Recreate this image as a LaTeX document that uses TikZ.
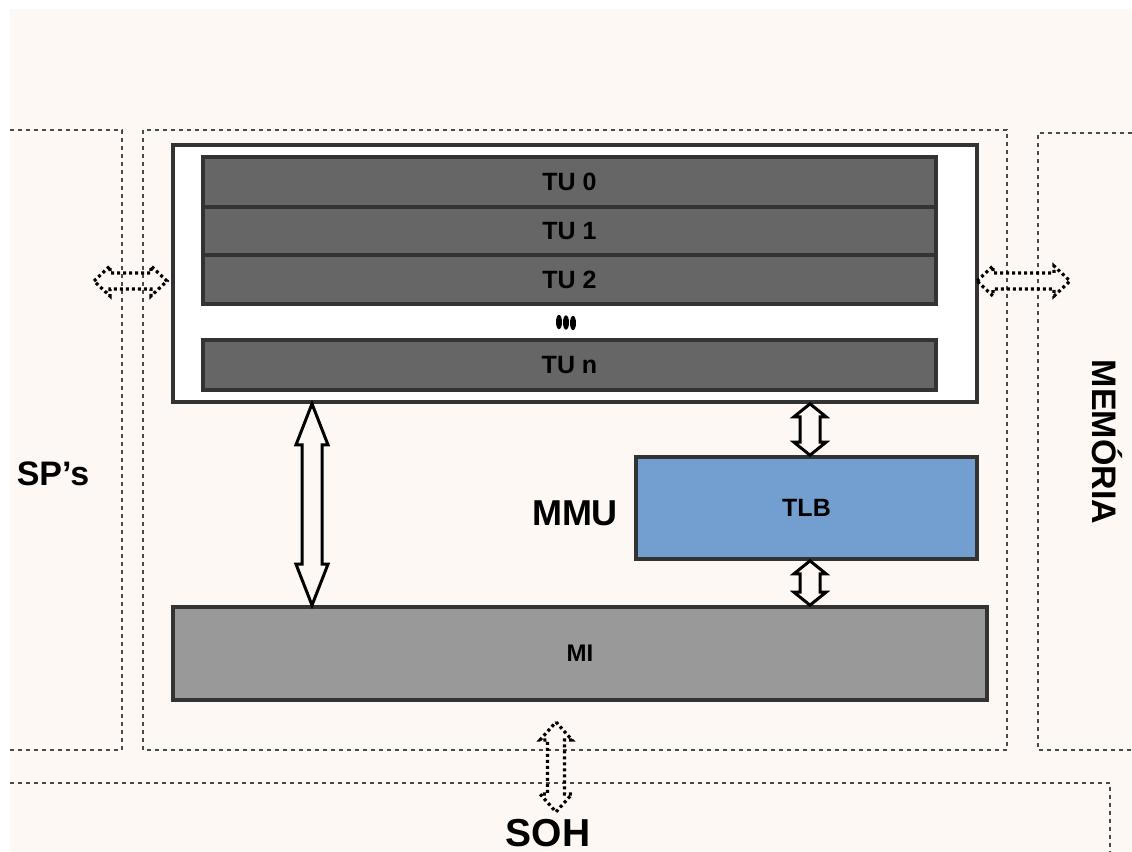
\documentclass[tikz,border=0pt]{standalone}
\usepackage{fontspec}
\setmainfont{Liberation Sans}
\usetikzlibrary{calc}
\definecolor{paper}{HTML}{FDF8F4}
\definecolor{edge}{HTML}{333333}
\definecolor{tugray}{HTML}{666666}
\definecolor{tlbblue}{HTML}{729FCF}
\definecolor{migray}{HTML}{999999}
\definecolor{zone}{HTML}{4A4A4A}

% vertical double block arrow: style, top end, bottom end, half shaft, half head, head length
\newcommand{\vdblarrow}[6]{%
  \draw[#1] let \p1=(#2), \p2=(#3) in
    (\x1,\y1) -- (\x1+#5,\y1-#6) -- (\x1+#4,\y1-#6) -- (\x2+#4,\y2+#6) --
    (\x2+#5,\y2+#6) -- (\x2,\y2) -- (\x2-#5,\y2+#6) -- (\x2-#4,\y2+#6) --
    (\x1-#4,\y1-#6) -- (\x1-#5,\y1-#6) -- cycle;}
% horizontal double block arrow: style, left end, right end, half shaft, half head, head length
\newcommand{\hdblarrow}[6]{%
  \draw[#1] let \p1=(#2), \p2=(#3) in
    (\x1,\y1) -- (\x1+#6,\y1+#5) -- (\x1+#6,\y1+#4) -- (\x2-#6,\y2+#4) --
    (\x2-#6,\y2+#5) -- (\x2,\y2) -- (\x2-#6,\y2-#5) -- (\x2-#6,\y2-#4) --
    (\x1+#6,\y1-#4) -- (\x1+#6,\y1-#5) -- cycle;}

\begin{document}
\begin{tikzpicture}[x=0.5pt,y=-0.5pt,
  zoneline/.style={draw=zone, line width=1.2pt, dash pattern=on 2pt off 2pt},
  box/.style={draw=edge, line width=1.8pt, inner sep=0pt},
  tubox/.style={box, fill=tugray, minimum width=366.5pt, font=\fontsize{12.5}{15}\selectfont\bfseries},
  solidarrow/.style={draw=black, fill=paper, line width=1.5pt, line join=miter},
  dotarrow/.style={draw=black, line width=1.6pt, dash pattern=on 1.5pt off 1.5pt},
  label/.style={font=\bfseries, text=black}
]
\useasboundingbox (0,0) rectangle (1132,852);
\fill[paper] (10,9) rectangle (1132,852);

% surrounding zones
\draw[zoneline] (10,130) -- (122,130) -- (122,750) -- (10,750);
\draw[zoneline] (143,130) rectangle (1007,750);
\draw[zoneline] (1132,133) -- (1038,133) -- (1038,750) -- (1132,750);
\draw[zoneline] (10,783) -- (1110,783) -- (1110,852);

% thread units
\node[box, fill=white, minimum width=402pt, minimum height=128.5pt] (outer) at (575,273.5) {};
\node[tubox, minimum height=25pt]   (tu0) at (569.5,182)   {TU 0};
\node[tubox, minimum height=24pt]   (tu1) at (569.5,231)   {TU 1};
\node[tubox, minimum height=24.5pt] (tu2) at (569.5,279.5) {TU 2};
\node[tubox, minimum height=25pt]   (tun) at (569.5,365)   {TU n};
\fill (559,322) ellipse [x radius=1.5pt, y radius=3.6pt];
\fill (566,322.5) ellipse [x radius=1.5pt, y radius=3.6pt];
\fill (573,323) ellipse [x radius=1.5pt, y radius=3.6pt];

% memory management unit
\node[box, fill=tlbblue, minimum width=170.5pt, minimum height=51pt,
      font=\fontsize{12.5}{15}\selectfont\bfseries] (tlb) at (806.5,508) {TLB};
\node[label, font=\fontsize{18}{21}\selectfont\bfseries] (mmu) at (575,513) {MMU};

% memory interface
\node[box, fill=migray, minimum width=407pt, minimum height=46.5pt,
      font=\fontsize{12}{14}\selectfont\bfseries] (mi) at (580,653.5) {MI};

% region labels
\node[label, font=\fontsize{17}{20}\selectfont\bfseries] (sp) at (53,474) {SP’s};
\node[label, font=\fontsize{17}{20}\selectfont\bfseries, rotate=-90] (mem) at (1107,442) {MEMÓRIA};
\node[label, font=\fontsize{19.5}{22}\selectfont\bfseries] (soh) at (548,833) {SOH};

% connector anchors
\coordinate (xbig) at (312,0);
\coordinate (xtlb) at (810,0);
\coordinate (spend) at (94,281);
\coordinate (outl) at (167,281);
\coordinate (outr) at (977,281);
\coordinate (memend) at (1070,281);
\coordinate (sohtop) at (556,722);
\coordinate (sohbot) at (556,812);

% solid double arrows
\vdblarrow{solidarrow}{outer.south -| xbig}{mi.north -| xbig}{5pt}{8pt}{20.5pt}
\vdblarrow{solidarrow}{outer.south -| xtlb}{tlb.north -| xtlb}{5pt}{8pt}{6.5pt}
\vdblarrow{solidarrow}{tlb.south -| xtlb}{mi.north -| xtlb}{5pt}{8pt}{6.5pt}

% dotted double arrows
\hdblarrow{dotarrow}{spend}{outl}{4pt}{7.5pt}{8pt}
\hdblarrow{dotarrow}{outr}{memend}{4pt}{7.5pt}{8pt}
\vdblarrow{dotarrow}{sohtop}{sohbot}{4.25pt}{8pt}{9pt}
\end{tikzpicture}
\end{document}
